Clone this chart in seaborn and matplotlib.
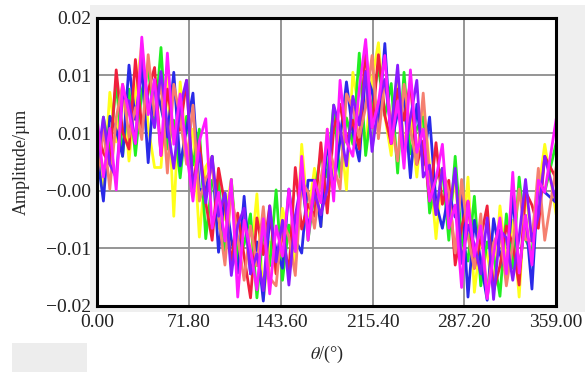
import numpy as np
import pandas as pd
import matplotlib.pyplot as plt
import seaborn as sns
from matplotlib.patches import Rectangle
from matplotlib.ticker import FuncFormatter

# sample angles in degrees
theta = [0, 5, 10, 15, 20, 25, 30, 35, 40, 45, 50, 55, 60, 65, 70, 75, 80, 85,
         90, 95, 100, 105, 110, 115, 120, 125, 130, 135, 140, 145, 150, 155, 160, 165, 170, 175,
         180, 185, 190, 195, 200, 205, 210, 215, 220, 225, 230, 235, 240, 245, 250, 255, 260, 265,
         270, 275, 280, 285, 290, 295, 300, 305, 310, 315, 320, 325, 330, 335, 340, 345, 350, 359]

# measured runs, amplitude in nm
yellow_nm = [4.2, -1.8, 10.3, 4.1, 11.3, 1.7, 9.9, 16.4, 6.0, 0.9, 0.9, 12.2, -5.2, 11.6, 2.8, 5.7, -7.8, 1.0,
             2.3, -6.7, -5.3, -0.6, -12.3, -5.7, -10.9, -2.4, -15.6, -8.4, -12.4, -4.2, -7.8, -11.1, 3.8, -5.2, 0.8, -6.5,
             5.7, -0.3, 5.8, -1.9, 12.8, 7.7, 3.9, 11.9, 16.5, 7.4, 2.4, 12.2, 3.8, 7.1, -0.3, 8.7, 1.2, -8.0,
             0.8, -5.2, -0.8, -9.6, -0.3, -14.7, -7.9, -9.9, -14.5, -3.9, -10.9, -5.7, -15.3, -2.1, -8.3, -2.2, 3.8, -5.0]
green_nm = [-1.8, 7.2, 2.8, 11.6, 2.3, 10.7, 2.4, 10.4, 13.5, 5.9, 15.9, 3.2, 6.8, -0.4, 7.3, 1.2, 5.7, -8.0,
            -0.7, -0.7, -9.8, -0.6, -10.8, -8.7, -4.9, -15.4, -7.0, -11.4, -1.9, -13.2, -6.3, -9.6, 0.8, -8.2, -2.2, 2.5,
            -0.3, 8.7, -0.3, 7.1, 3.8, 15.2, 2.4, 8.9, 13.5, 7.4, 11.4, 0.2, 12.8, 2.6, 5.8, 7.2, -4.8, -0.5,
            0.8, -8.2, 2.3, -8.1, -10.8, -2.7, -13.9, -8.4, -10.0, -15.2, -4.9, -11.7, -0.3, -8.1, -9.8, -0.7, -2.2, 4.0]
blue_nm = [2.7, -3.3, 7.3, 5.6, 2.3, 13.7, 6.9, 13.4, 1.5, 11.9, 8.4, 4.7, 12.8, 1.1, 5.8, 10.2, -1.8, -2.0,
           2.3, -9.7, -2.3, -8.1, -12.3, -2.7, -12.4, -8.4, -15.8, -5.4, -9.4, -11.7, -1.8, -8.1, -9.8, -0.7, -0.7, -6.5,
           4.2, -1.8, 4.3, 11.6, 5.3, 1.7, 12.9, 10.4, 6.0, 16.4, 3.9, 7.7, 9.8, -0.4, 8.8, 1.2, 7.2, -3.5,
           -6.7, -2.2, -5.3, -2.1, -15.3, -5.7, -10.9, -15.7, -5.5, -9.9, -12.4, -2.7, -12.3, -5.1, -14.3, -0.7, -2.2, -3.5]
red_nm = [5.7, 2.7, 1.3, 13.1, 5.3, 3.2, 14.4, 5.9, 10.5, 13.4, 2.4, 10.7, 5.3, 5.6, 11.8, -1.8, 4.2, -3.5,
          -8.2, 0.8, -3.8, -11.1, -4.8, -10.2, -15.4, -5.4, -10.0, -3.9, -12.4, -7.2, -12.3, 0.9, -6.8, -3.7, -5.2, 4.0,
          -4.8, 5.7, 8.8, 4.1, 6.8, 3.2, 15.9, 5.9, 15.0, 7.4, 3.9, 10.7, 6.8, 11.6, 1.3, 4.2, -3.3, 4.0,
          -3.7, -0.7, -11.3, -6.6, -3.3, -11.7, -7.9, -3.9, -14.5, -11.4, -6.4, -8.7, -13.8, -2.1, -3.8, -6.7, 2.3, -0.5]
salmon_nm = [-0.3, 5.7, -1.8, 7.1, 11.3, 4.7, 8.4, 4.4, 15.0, 7.4, 11.4, 0.2, 11.3, 7.1, 1.3, 8.7, -3.3, -0.5,
             0.8, -5.2, -11.3, -2.1, -7.8, -13.2, -6.4, -11.4, -4.0, -12.9, -13.9, -5.7, -7.8, -12.6, -0.8, -2.2, -6.7, -0.5,
             4.2, 1.2, -1.8, 10.1, 8.3, 4.7, 8.4, 14.9, 4.5, 11.9, 6.9, 1.7, 11.3, 5.6, 1.3, 10.2, -0.3, -5.0,
             0.8, -2.2, -9.8, -0.6, -7.8, -11.7, -4.9, -15.3, -8.5, -6.9, -13.9, -8.7, -1.8, -8.1, -8.3, 0.8, -8.2, 1.0]
purple_nm = [1.2, 7.2, 1.3, -0.4, 9.8, 9.2, 3.9, 14.9, 9.0, 5.9, 12.9, 6.2, 0.8, 8.6, 11.8, -1.8, 2.7, -3.5,
             2.3, -5.2, -2.3, -12.6, -6.3, -4.2, -12.4, -9.9, -14.5, -3.9, -10.9, -5.7, -13.8, -5.1, -0.8, -6.7, -2.2, -5.0,
             -1.8, 8.7, 5.8, 1.1, 9.8, 6.2, 12.9, 2.9, 9.0, 11.9, 5.4, 13.7, 2.3, 7.1, 11.8, -0.3, 1.2, -5.0,
             0.8, -5.2, 0.8, -11.1, -6.3, -8.7, -12.4, -5.4, -15.6, -6.9, -7.9, -13.2, -7.8, -0.6, -8.3, -5.2, 2.3, -3.5]
magenta_nm = [7.2, -0.3, 5.8, -1.9, 11.3, 7.7, 3.9, 17.2, 7.5, 11.9, 2.4, 15.2, 3.8, 10.1, 2.8, -3.3, 4.2, 7.0,
              -6.7, -2.2, -8.3, -0.6, -15.3, -5.7, -9.4, -14.4, -5.5, -14.9, -6.4, -10.2, -1.8, -9.6, 2.3, -8.2, -0.7, -3.5,
              5.7, -3.3, 11.8, 4.1, 2.3, 10.7, 16.9, 5.9, 9.0, 14.9, 3.9, 9.2, 0.8, 13.1, 2.8, 5.7, -3.3, -0.5,
              3.8, -6.7, -3.8, -14.1, -3.3, -10.2, -6.4, -15.5, -10.0, -5.4, -12.4, 0.3, -12.3, -5.1, -11.3, -0.7, -2.2, 7.0]

runs = {"yellow": yellow_nm, "green": green_nm, "blue": blue_nm, "red": red_nm,
        "salmon": salmon_nm, "purple": purple_nm, "magenta": magenta_nm}
colors = {"yellow": "#ffff1a", "green": "#22ee22", "blue": "#2a2ae8", "red": "#f0203c",
          "salmon": "#f58070", "purple": "#8a1aff", "magenta": "#ff1aff"}

x_ticks = [0.0, 71.8, 143.6, 215.4, 287.2, 359.0]
y_ticks = [-0.0164, -0.0092, -0.0020, 0.0052, 0.0124, 0.0196]

df = pd.concat([pd.DataFrame({"theta": theta, "amp": np.array(v) / 1000.0, "run": k})
                for k, v in runs.items()], ignore_index=True)

sns.set_theme(style="white")
plt.rcParams["font.family"] = ["Liberation Serif", "DejaVu Serif"]
plt.rcParams["mathtext.fontset"] = "stix"

fig = plt.figure(figsize=(5.88, 3.73), dpi=100)
fig.patch.set_facecolor("white")
# light grey panel behind the plot, as in the screenshot
fig.patches.append(Rectangle((90 / 588, 1 - 312 / 373), 495 / 588, 307 / 373,
                             transform=fig.transFigure, facecolor="#efefef", edgecolor="none", zorder=0))
fig.patches.append(Rectangle((12 / 588, 1 - 372 / 373), 75 / 588, 29 / 373,
                             transform=fig.transFigure, facecolor="#ededed", edgecolor="none", zorder=0))

ax = fig.add_axes([0.165, 0.180, 0.781, 0.772])
ax.set_zorder(2)
ax.set_facecolor("white")

sns.lineplot(data=df, x="theta", y="amp", hue="run", palette=colors, linewidth=2.0,
             estimator=None, sort=False, legend=False, ax=ax, zorder=3)

ax.set_xlim(0, 359)
ax.set_ylim(y_ticks[0], y_ticks[-1])
ax.set_xticks(x_ticks)
ax.set_yticks(y_ticks)
ax.xaxis.set_major_formatter(FuncFormatter(lambda v, p: f"{v:.2f}"))
ax.yaxis.set_major_formatter(FuncFormatter(lambda v, p: f"{v:.2f}".replace("-", "\u2212")))
ax.tick_params(length=0, labelsize=14, colors="#222222", pad=4)
ax.tick_params(axis="x", pad=6)
ax.grid(True, color="#8c8c8c", linewidth=1.3, zorder=1)
ax.set_axisbelow(True)
for s in ax.spines.values():
    s.set_color("black")
    s.set_linewidth(2.2)
    s.set_zorder(5)

ax.set_xlabel("$\\theta$/(°)", fontsize=13, labelpad=9)
ax.set_ylabel("Amplitude/µm", fontsize=13, labelpad=12)

fig.savefig("out.png", dpi=100)
